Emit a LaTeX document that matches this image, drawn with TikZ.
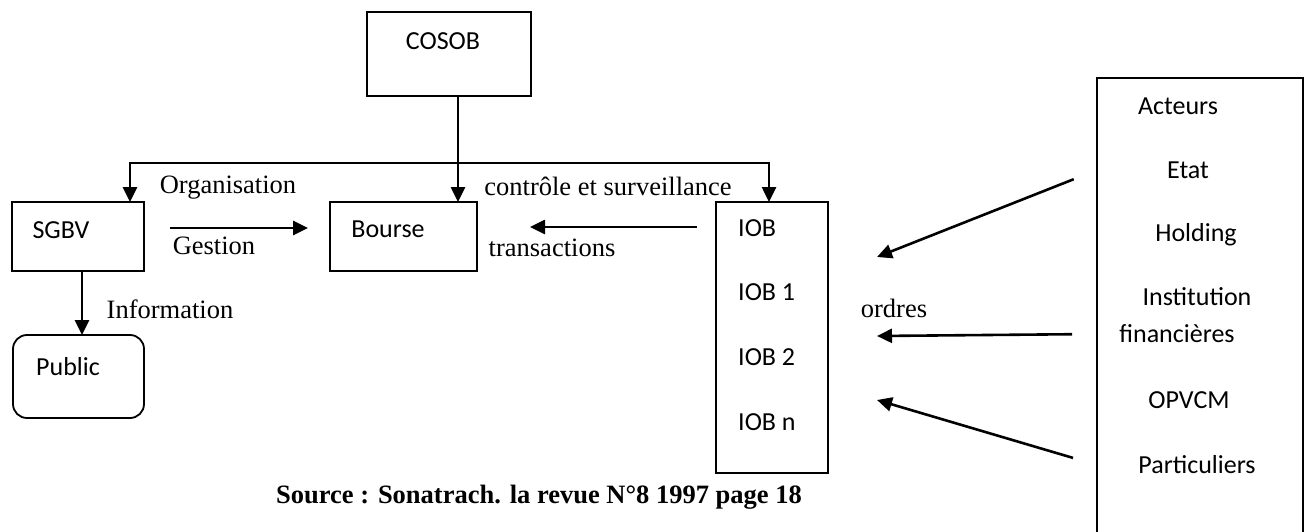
\documentclass[tikz,border=0pt]{standalone}
\usepackage{fontspec}
\setmainfont{Liberation Serif}
\newfontfamily\boxfont{Carlito}
\usetikzlibrary{arrows.meta, positioning, calc}

\begin{document}
\begin{tikzpicture}[
    x = 1pt, y = -1pt,
    > = {Triangle[length = 15pt, width = 14pt]},
    box/.style = {
      rectangle, draw, line width = 1.8pt, inner sep = 0pt, outer sep = 0pt,
      anchor = north west
    },
    entry/.style = {
      font = \boxfont\fontsize{26}{31}\selectfont, inner sep = 0pt,
      text height = 16.6pt, text depth = 0pt
    },
    lab/.style = {
      font = \fontsize{26.5}{31}\selectfont, inner sep = 0pt,
      text height = 17.5pt, text depth = 0pt
    },
    path/.style = {
      arrows = ->, line width = 2.6pt
    },
    ]

    \useasboundingbox (0, 0) rectangle (1306, 532);

    % draw boxes
    \node  [box, minimum width = 164pt, minimum height = 84pt]  (cosob)  at (367, 12)  {};
    \node  [box, minimum width = 132pt, minimum height = 69pt]  (sgbv)  at (12, 202)  {};
    \node  [box, minimum width = 147pt, minimum height = 69pt]  (bourse)  at (330, 202)  {};
    \node  [box, rounded corners = 14pt, minimum width = 131pt, minimum height = 83pt]  (public)  at (13, 335)  {};
    \node  [box, minimum width = 112pt, minimum height = 271pt]  (iob)  at (716, 202)  {};
    \node  [box, minimum width = 206pt, minimum height = 480pt]  (acteurs)  at (1097, 78)  {};

    % draw box texts
    \node  [entry]  (cosob_t)  at (443, 41)  {COSOB};
    \node  [entry]  (sgbv_t)  at (61, 230)  {SGBV};
    \node  [entry]  (bourse_t)  at (388, 229)  {Bourse};
    \node  [entry]  (public_t)  at (68, 367)  {Public};

    \foreach \i/\t/\y in {0/IOB/228, 1/IOB 1/292, 2/IOB 2/357, n/IOB n/422}
    \node  [entry, anchor = west]  (iob_\i)  at (738, \y)  {\t};

    \foreach \n/\x/\y/\t in {act/1178/106/Acteurs, etat/1188/170/Etat,
      hold/1196/233/Holding, inst/1197/297/Institution,
      fin/1177/334/financières, opvcm/1189/400/OPVCM, part/1197/465/Particuliers}
    \node  [entry]  (\n)  at (\x, \y)  {\t};

    % draw labels
    \node  [lab]  (organisation)  at (228, 185)  {Organisation};
    \node  [lab]  (gestion)  at (214, 246)  {Gestion};
    \node  [lab]  (controle)  at (608, 187)  {contrôle et surveillance};
    \node  [lab]  (transactions)  at (552, 248)  {transactions};
    \node  [lab]  (information)  at (170, 310)  {Information};
    \node  [lab]  (ordres)  at (894, 309)  {ordres};
    \node  [lab, font = \bfseries\fontsize{26.5}{31}\selectfont]  (source)  at (539, 495)
      {Source : Sonatrach. la revue N°8 1997 page 18};

    % draw paths
    \coordinate  (jl)  at (130, 163);
    \coordinate  (jr)  at (769, 163);
    \coordinate  (jc)  at (458, 163);
    \coordinate  (info)  at (82, 0);
    \coordinate  (rowg)  at (0, 228);
    \coordinate  (rowt)  at (0, 227);
    \coordinate  (o1)  at (877, 257);
    \coordinate  (o2)  at (877, 336);
    \coordinate  (o3)  at (877, 400);

    \draw  [path]  (cosob.south -| jc)  --  (bourse.north -| jc);
    \draw  [path, <->]  (sgbv.north -| jl)  --  (jl)  --  (jr)  --  (iob.north -| jr);
    \draw  [path, shorten <= 26pt, shorten >= 22pt]  (sgbv.east |- rowg)  --  (bourse.west |- rowg);
    \draw  [path, shorten <= 19pt, shorten >= 53pt]  (iob.west |- rowt)  --  (bourse.east |- rowt);
    \draw  [path]  (sgbv.south -| info)  --  (public.north -| info);

    \foreach \a/\o in {etat/o1, fin/o2, part/o3}
    \draw  [path, shorten <= 25pt]  (acteurs.west |- \a)  --  (\o);

\end{tikzpicture}
\end{document}
